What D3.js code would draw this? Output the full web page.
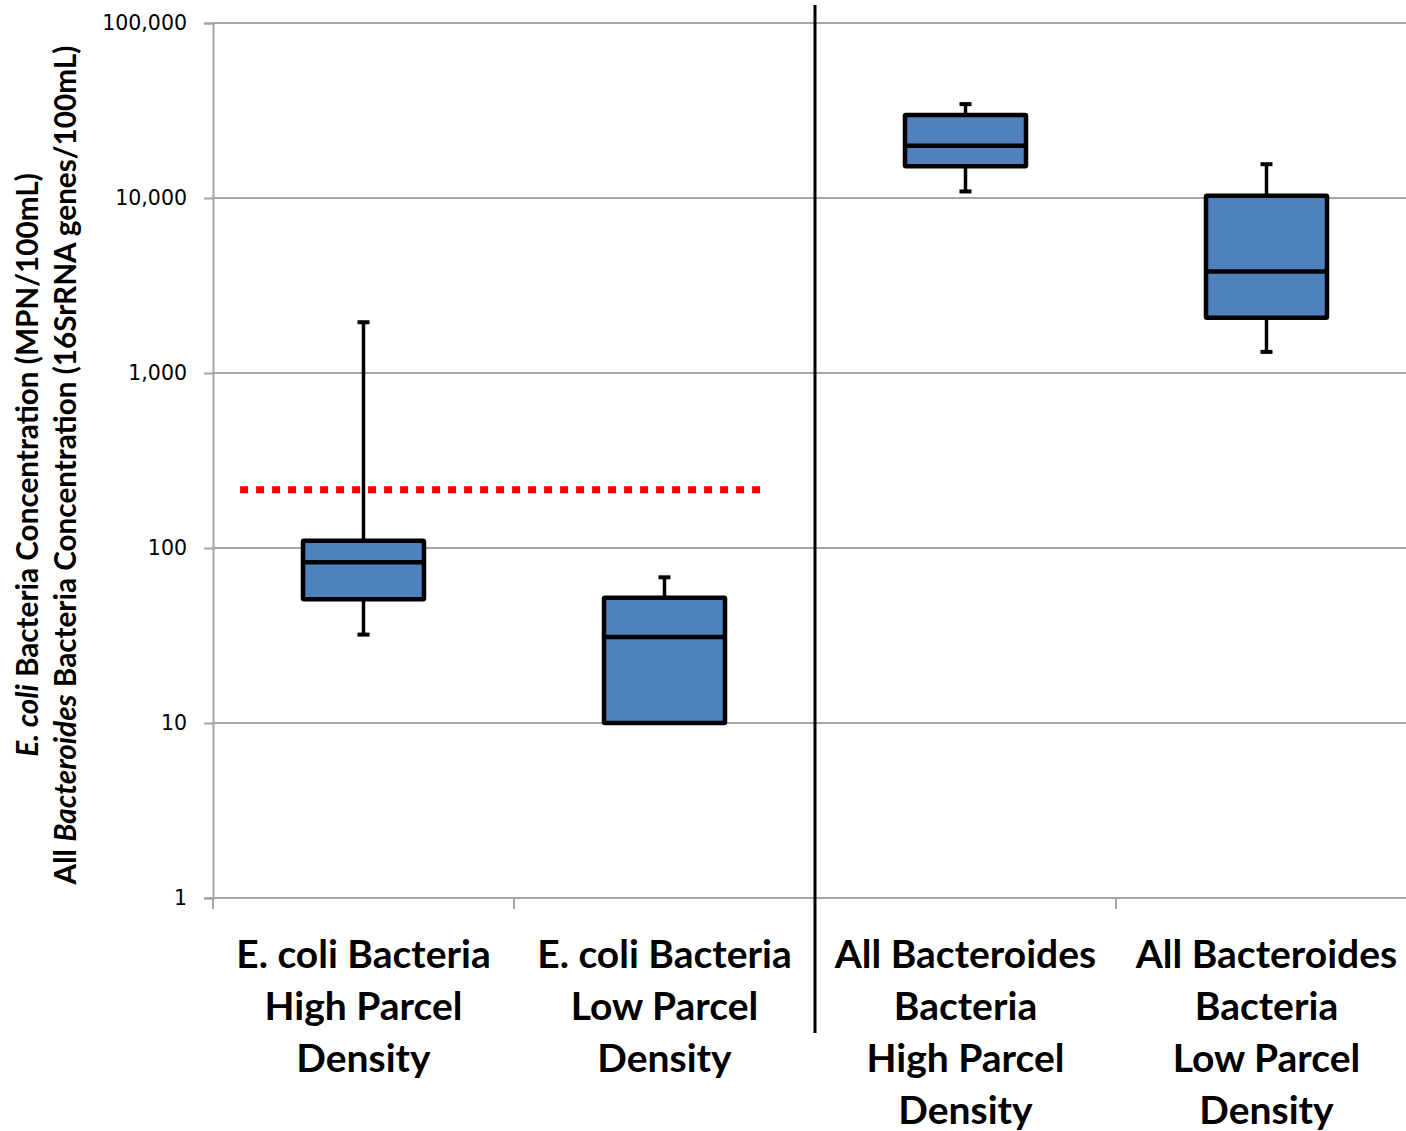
<!DOCTYPE html>
<html><head><meta charset="utf-8">
<script src="https://cdn.jsdelivr.net/npm/d3@7"></script>
<style>
html,body{margin:0;padding:0;background:#fff;}
svg{display:block;}
</style></head>
<body>
<svg id="chart" width="1406" height="1131"></svg>
<script>
// ---- data ----
const categories = ["ecoli_high","ecoli_low","bact_high","bact_low"];
const categoryLabels = [
  ["E. coli Bacteria","High Parcel","Density"],
  ["E. coli Bacteria","Low Parcel","Density"],
  ["All Bacteroides","Bacteria","High Parcel","Density"],
  ["All Bacteroides","Bacteria","Low Parcel","Density"]
];
const whiskerLow  = [32, null, 10900, 1320];
const q1          = [51, 10, 15200, 2070];
const medians     = [83, 31, 19900, 3800];
const q3          = [110, 52, 29800, 10300];
const whiskerHigh = [1950, 68, 34400, 15600];
const yTicks = [1, 10, 100, 1000, 10000, 100000];
const referenceValue = 215; // E. coli standard line

// ---- layout ----
const svg = d3.select("#chart");
const y = d3.scaleLog().domain([1, 100000]).range([898, 23]);
const x = d3.scaleBand().domain(categories).range([213, 1417]).paddingInner(0).paddingOuter(0);
const bw = x.bandwidth();
const boxW = 121;

// gridlines
svg.append("g").selectAll("line").data(yTicks.slice(1)).join("line")
  .attr("x1", 213).attr("x2", 1406)
  .attr("y1", d => y(d)).attr("y2", d => y(d))
  .attr("stroke", "#a6a6a6").attr("stroke-width", 2);

// y axis
const yAxis = d3.axisLeft(y).tickValues(yTicks).tickFormat(d3.format(",")).tickSize(9).tickPadding(17);
const gy = svg.append("g").attr("transform", "translate(213,0)").call(yAxis);
gy.select(".domain").attr("stroke", "#a6a6a6").attr("stroke-width", 2);
gy.selectAll(".tick line").attr("stroke", "#a6a6a6").attr("stroke-width", 2);
gy.selectAll(".tick text").attr("font-family", "DejaVu Sans, Liberation Sans, sans-serif")
  .attr("font-size", 20.5).attr("fill", "#000");

// x axis line + boundary ticks
svg.append("line").attr("x1", 204).attr("x2", 1406).attr("y1", y(1)).attr("y2", y(1))
  .attr("stroke", "#a6a6a6").attr("stroke-width", 2);
svg.append("g").selectAll("line").data(categories).join("line")
  .attr("x1", d => x(d)).attr("x2", d => x(d))
  .attr("y1", y(1)).attr("y2", y(1) + 11)
  .attr("stroke", "#a6a6a6").attr("stroke-width", 2);

// category labels
const lab = svg.append("g").attr("font-family", "Lato, 'Open Sans', sans-serif")
  .attr("font-weight", "bold").attr("font-size", 39).attr("fill", "#000").attr("text-anchor", "middle");
categories.forEach((c, i) => {
  const t = lab.append("text").attr("x", x(c) + bw / 2);
  categoryLabels[i].forEach((line, j) => {
    t.append("tspan").attr("x", x(c) + bw / 2).attr("y", 968 + j * 52).text(line);
  });
});

// reference dotted line
svg.append("line")
  .attr("x1", x(categories[0]) + bw * 0.09).attr("x2", x(categories[1]) + bw * 0.83)
  .attr("y1", y(referenceValue)).attr("y2", y(referenceValue))
  .attr("stroke", "#ff0000").attr("stroke-width", 7).attr("stroke-dasharray", "8,8");

// boxes
const boxes = svg.append("g");
categories.forEach((c, i) => {
  const cx = x(c) + bw / 2;
  const g = boxes.append("g");
  if (whiskerHigh[i] != null) {
    g.append("line").attr("x1", cx).attr("x2", cx).attr("y1", y(whiskerHigh[i])).attr("y2", y(q3[i]))
      .attr("stroke", "#000").attr("stroke-width", 3.5);
    g.append("line").attr("x1", cx - 6).attr("x2", cx + 6).attr("y1", y(whiskerHigh[i])).attr("y2", y(whiskerHigh[i]))
      .attr("stroke", "#000").attr("stroke-width", 4);
  }
  if (whiskerLow[i] != null) {
    g.append("line").attr("x1", cx).attr("x2", cx).attr("y1", y(q1[i])).attr("y2", y(whiskerLow[i]))
      .attr("stroke", "#000").attr("stroke-width", 3.5);
    g.append("line").attr("x1", cx - 6).attr("x2", cx + 6).attr("y1", y(whiskerLow[i])).attr("y2", y(whiskerLow[i]))
      .attr("stroke", "#000").attr("stroke-width", 4);
  }
  g.append("rect").attr("x", cx - boxW / 2).attr("width", boxW)
    .attr("y", y(q3[i])).attr("height", y(q1[i]) - y(q3[i]))
    .attr("fill", "#4f81bd").attr("stroke", "#000").attr("stroke-width", 4.5).attr("rx", 1);
  g.append("line").attr("x1", cx - boxW / 2).attr("x2", cx + boxW / 2)
    .attr("y1", y(medians[i])).attr("y2", y(medians[i]))
    .attr("stroke", "#000").attr("stroke-width", 4.5);
});

// separator between E. coli and Bacteroides groups
svg.append("line").attr("x1", x(categories[2])).attr("x2", x(categories[2]))
  .attr("y1", 5).attr("y2", 1033).attr("stroke", "#000").attr("stroke-width", 3);

// y axis title
const tg = svg.append("g").attr("transform", "translate(0,465) rotate(-90)")
  .attr("font-family", "Lato, 'Open Sans', sans-serif").attr("font-weight", "bold")
  .attr("font-size", 29.7).attr("fill", "#000").attr("text-anchor", "middle");
const t1 = tg.append("text").attr("x", 0).attr("y", 38);
t1.append("tspan").attr("font-style", "italic").text("E. coli");
t1.append("tspan").text(" Bacteria Concentration (MPN/100mL)");
const t2 = tg.append("text").attr("x", 0).attr("y", 76);
t2.append("tspan").text("All ");
t2.append("tspan").attr("font-style", "italic").text("Bacteroides");
t2.append("tspan").text(" Bacteria Concentration (16SrRNA genes/100mL)");
</script>
</body></html>
